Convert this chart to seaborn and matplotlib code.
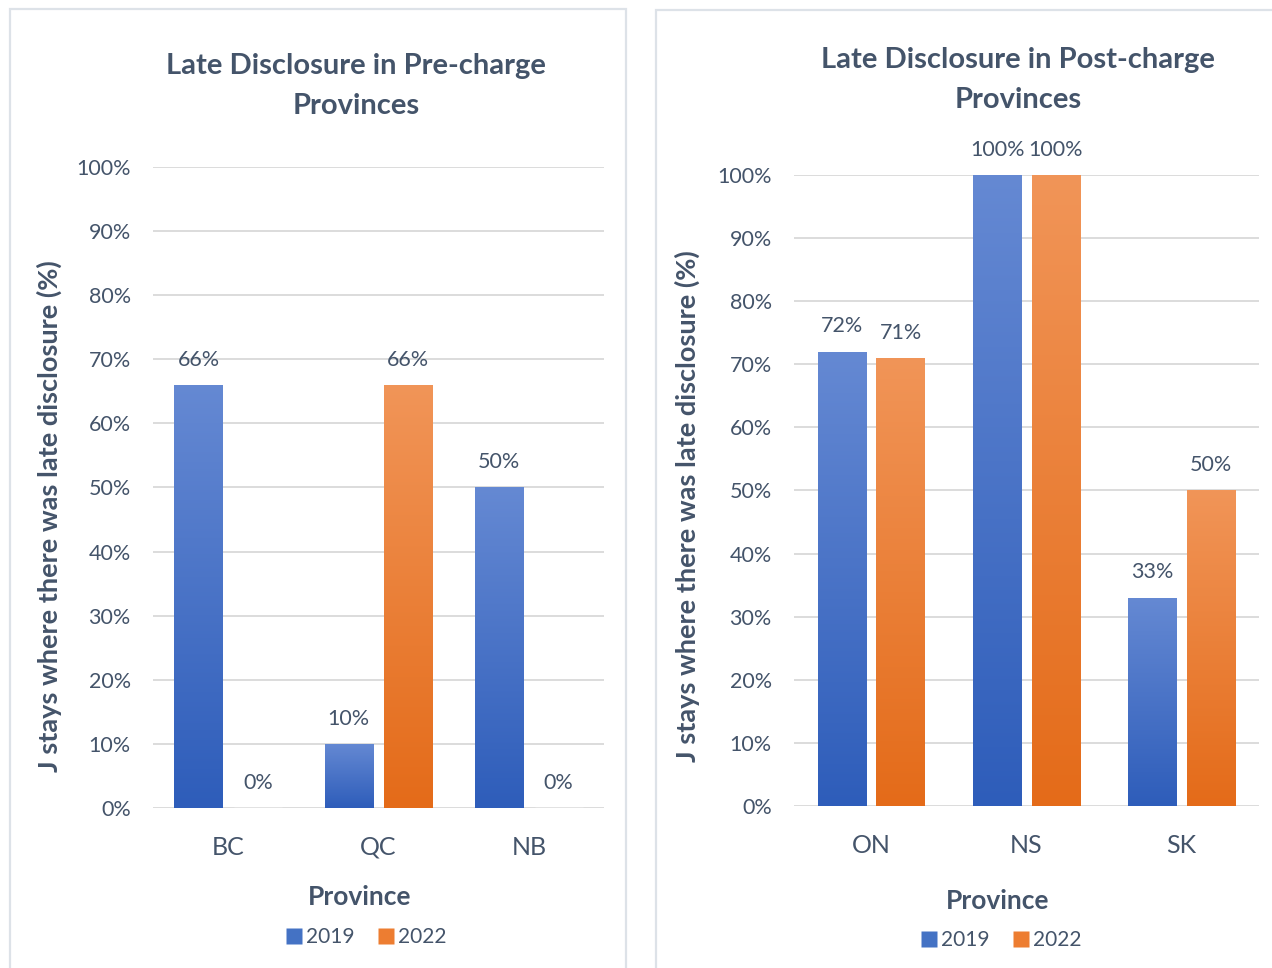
import numpy as np
import pandas as pd
import seaborn as sns
import matplotlib.pyplot as plt
from matplotlib.patches import Rectangle
from matplotlib.ticker import FuncFormatter
from matplotlib.colors import LinearSegmentedColormap

# datos de los dos paneles
years = ["2019", "2022"]
pre_provinces = ["BC", "QC", "NB"]
pre_2019 = [66, 10, 50]
pre_2022 = [0, 66, 0]
post_provinces = ["ON", "NS", "SK"]
post_2019 = [72, 100, 33]
post_2022 = [71, 100, 50]

TEXT = "#44546A"
GRID = "#D9D9D9"
BLUE_TOP, BLUE_BOT = "#6589D3", "#2E5DBA"
ORANGE_TOP, ORANGE_BOT = "#F19558", "#E46B19"

sns.set_style("white")
plt.rcParams["font.family"] = ["Lato", "DejaVu Sans"]


def armar_df(provs, v19, v22):
    return pd.DataFrame({
        "Province": provs * 2,
        "Year": [years[0]] * 3 + [years[1]] * 3,
        "Pct": v19 + v22,
    })


def pintar_degradado(ax):
    # cambia cada barra por un degradado vertical (como en Excel)
    xl, yl = ax.get_xlim(), ax.get_ylim()
    grad = np.linspace(1, 0, 256).reshape(-1, 1)
    for bar in ax.patches:
        fc = bar.get_facecolor()
        if fc[2] > fc[0]:
            cmap = LinearSegmentedColormap.from_list("b", [BLUE_BOT, BLUE_TOP])
        else:
            cmap = LinearSegmentedColormap.from_list("o", [ORANGE_BOT, ORANGE_TOP])
        x0, y0 = bar.get_x(), bar.get_y()
        w, h = bar.get_width(), bar.get_height()
        if h <= 0:
            continue
        im = ax.imshow(grad, cmap=cmap, aspect="auto", extent=[x0, x0 + w, y0, y0 + h],
                       origin="upper", zorder=2)
        im.set_clip_path(bar)
        bar.set_facecolor("none")
        bar.set_edgecolor("none")
    ax.set_xlim(xl)
    ax.set_ylim(yl)


def panel(ax, df, provs, titulo, tx, ty, ylx, yly, xlx, xly, width, gap):
    sns.barplot(data=df, x="Province", y="Pct", hue="Year", order=provs,
                palette=[BLUE_BOT, ORANGE_BOT], width=width, gap=gap,
                ax=ax, legend=False, zorder=2)
    ax.set_xlim(-0.5, 2.5)
    ax.set_ylim(0, 100)
    ax.set_yticks(range(0, 101, 10))
    ax.yaxis.set_major_formatter(FuncFormatter(lambda v, p: f"{int(v)}%"))
    ax.grid(axis="y", color=GRID, linewidth=1.3, zorder=0)
    ax.set_axisbelow(True)
    for s in ax.spines.values():
        s.set_visible(False)
    ax.tick_params(axis="y", length=0, pad=16, labelsize=15.5, labelcolor=TEXT)
    ax.tick_params(axis="x", length=0, pad=20, labelsize=18, labelcolor=TEXT)

    for cont in ax.containers:
        ax.bar_label(cont, labels=[f"{int(v)}%" for v in cont.datavalues],
                     padding=11, fontsize=15.5, color=TEXT)

    pintar_degradado(ax)

    ax.text(tx, ty, titulo, transform=ax.transAxes, ha="center", va="center",
            fontsize=21, fontweight="bold", color=TEXT, linespacing=1.65)
    ax.set_ylabel("J stays where there was late disclosure (%)", fontsize=19.5,
                  fontweight="bold", color=TEXT)
    ax.yaxis.set_label_coords(ylx, yly)
    ax.set_xlabel("Province", fontsize=19, fontweight="bold", color=TEXT)
    ax.xaxis.set_label_coords(xlx, xly)


fig = plt.figure(figsize=(12.72, 9.68), dpi=100)
ax1 = fig.add_axes([0.1203, 0.1653, 0.3546, 0.6622])
ax2 = fig.add_axes([0.6242, 0.1674, 0.3656, 0.6519])

panel(ax1, armar_df(pre_provinces, pre_2019, pre_2022), pre_provinces,
      "Late Disclosure in Pre-charge\nProvinces", 0.45, 1.126, -0.202, 0.455, 0.457, -0.12,
      0.79, 0.19)
panel(ax2, armar_df(post_provinces, post_2019, post_2022), post_provinces,
      "Late Disclosure in Post-charge\nProvinces", 0.482, 1.15, -0.202, 0.475, 0.437, -0.1315,
      0.76, 0.17)

# bordes de los cuadros de cada grafico
fig.patches.append(Rectangle((10 / 1272, -0.1), 616 / 1272, 1.1 - 9 / 968,
                             transform=fig.transFigure, fill=False,
                             edgecolor="#DDE2E8", linewidth=1.6))
fig.patches.append(Rectangle((656 / 1272, -0.1), 0.6, 1.1 - 10 / 968,
                             transform=fig.transFigure, fill=False,
                             edgecolor="#DDE2E8", linewidth=1.6))

# leyendas
for cx, cy in [(365 / 1272, 1 - 937 / 968), (1000 / 1272, 1 - 940 / 968)]:
    handles = [plt.Line2D([], [], marker="s", linestyle="none", markersize=11,
                          markerfacecolor=c, markeredgecolor="none")
               for c in ["#4472C4", "#ED7D31"]]
    fig.legend(handles, years, loc="center", bbox_to_anchor=(cx, cy), ncol=2,
               frameon=False, fontsize=15, labelcolor=TEXT, handletextpad=0.1,
               columnspacing=1.0, handlelength=1.0)

fig.savefig("out.png", dpi=100)
